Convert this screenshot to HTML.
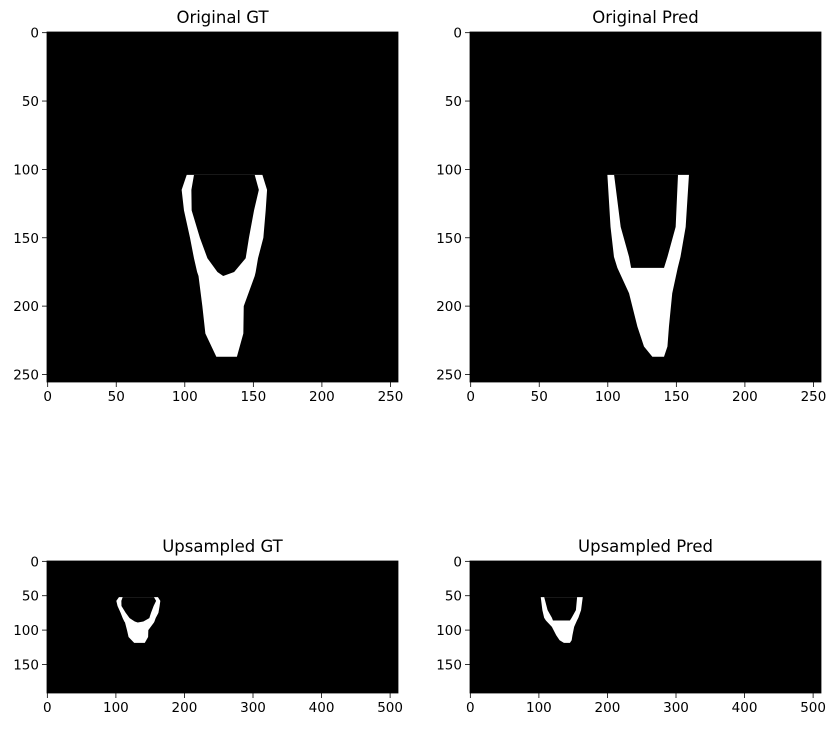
<!DOCTYPE html>
<html><head><meta charset="utf-8"><style>
body{margin:0;background:#fff;}
svg text{font-family:"DejaVu Sans","Liberation Sans",sans-serif;fill:#000;}
</style></head><body>
<svg id="fig" width="836" height="727" xmlns="http://www.w3.org/2000/svg"></svg>
<script>
// GT mask outline, rows and column extents (original 256x256 coordinates)
const gtRows      = [104, 115, 130, 150, 165, 175, 178, 200, 220, 237];
const gtLeftOuter = [101.4, 97.7, 99.4, 103.8, 106.7, 109, 110, 112.8, 115, 123];
const gtRightOuter= [156.6, 160, 159, 157.3, 153.4, 151.7, 151, 143, 142.7, 138];
const gtHoleRows  = [104, 115, 130, 150, 165, 175, 178];
const gtLeftInner = [106.7, 104.8, 105, 111, 116.5, 123.8, 128];
const gtRightInner= [151, 154, 150.5, 146.8, 144.4, 136, 128];
// Pred mask outline
const prRows      = [104, 142, 164, 172, 190.6, 215, 229.5, 237];
const prLeftOuter = [99.7, 102, 104.5, 107, 115.5, 121.6, 126.4, 132.5];
const prRightOuter= [159.2, 156.8, 153, 151, 147, 144.6, 143.5, 141];
const prHoleRows  = [104, 142, 164, 172];
const prLeftInner = [104.6, 109.4, 115.5, 117];
const prRightInner= [151.2, 149.5, 143.5, 141];
// Upsampling factors (original -> upsampled coordinates)
const upScaleX = 1.03, upScaleY = 0.5;
const origTicks = [0, 50, 100, 150, 200, 250];
const upXTicks = [0, 100, 200, 300, 400, 500];
const upYTicks = [0, 50, 100, 150];

const NS = "http://www.w3.org/2000/svg";
const svg = document.getElementById('fig');
function el(tag, attrs, parent){const e=document.createElementNS(NS,tag);for(const k in attrs)e.setAttribute(k,attrs[k]);(parent||svg).appendChild(e);return e;}

const panels = [
  {name:'original-gt', title:'Original GT', x0:47,x1:398,y0:32,y1:382,w:256,h:256,xt:origTicks,yt:origTicks,
   mask:{rows:gtRows,lo:gtLeftOuter,ro:gtRightOuter,hr:gtHoleRows,li:gtLeftInner,ri:gtRightInner},sx:1,sy:1},
  {name:'original-pred', title:'Original Pred', x0:470,x1:821,y0:32,y1:382,w:256,h:256,xt:origTicks,yt:origTicks,
   mask:{rows:prRows,lo:prLeftOuter,ro:prRightOuter,hr:prHoleRows,li:prLeftInner,ri:prRightInner},sx:1,sy:1},
  {name:'upsampled-gt', title:'Upsampled GT', x0:47,x1:398,y0:561,y1:693,w:512,h:192,xt:upXTicks,yt:upYTicks,
   mask:{rows:gtRows,lo:gtLeftOuter,ro:gtRightOuter,hr:gtHoleRows,li:gtLeftInner,ri:gtRightInner},sx:upScaleX,sy:upScaleY},
  {name:'upsampled-pred', title:'Upsampled Pred', x0:470,x1:821,y0:561,y1:693,w:512,h:192,xt:upXTicks,yt:upYTicks,
   mask:{rows:prRows,lo:prLeftOuter,ro:prRightOuter,hr:prHoleRows,li:prLeftInner,ri:prRightInner},sx:upScaleX,sy:upScaleY}
];

panels.forEach(p=>{
  const g = el('g',{});
  
  
  const xs = v => p.x0 + (v+0.5)*(p.x1-p.x0)/p.w;
  const ys = v => p.y0 + (v+0.5)*(p.y1-p.y0)/p.h;
  const bg = el('rect',{x:p.x0,y:p.y0,width:p.x1-p.x0,height:p.y1-p.y0,fill:'#000'},g);
  
  
  const m = p.mask;
  let pts=[];
  for(let i=0;i<m.rows.length;i++) pts.push(xs(m.lo[i]*p.sx)+','+ys(m.rows[i]*p.sy));
  for(let i=m.rows.length-1;i>=0;i--) pts.push(xs(m.ro[i]*p.sx)+','+ys(m.rows[i]*p.sy));
  const outer = el('polygon',{points:pts.join(' '),fill:'#fff'},g);
  
  
  let hp=[];
  for(let i=0;i<m.hr.length;i++) hp.push(xs(m.li[i]*p.sx)+','+ys(m.hr[i]*p.sy));
  for(let i=m.hr.length-1;i>=0;i--) hp.push(xs(m.ri[i]*p.sx)+','+ys(m.hr[i]*p.sy));
  const hole = el('polygon',{points:hp.join(' '),fill:'#000'},g);
  
  
  el('rect',{x:p.x0,y:p.y0,width:p.x1-p.x0,height:p.y1-p.y0,fill:'none',stroke:'#000','stroke-width':0.8},g);
  const t = el('text',{x:(p.x0+p.x1)/2,y:p.y0-9,'text-anchor':'middle','font-size':'16.5px'},g);
  t.textContent = p.title;
  
  
  p.xt.forEach(v=>{
    const x = xs(v);
    el('line',{x1:x,x2:x,y1:p.y1,y2:p.y1+5,stroke:'#000','stroke-width':0.8},g);
    const tx = el('text',{x:x,y:p.y1+19,'text-anchor':'middle','font-size':'13.5px'},g);
    tx.textContent = v;
    
    
  });
  p.yt.forEach(v=>{
    const y = ys(v);
    el('line',{x1:p.x0-5,x2:p.x0,y1:y,y2:y,stroke:'#000','stroke-width':0.8},g);
    const ty = el('text',{x:p.x0-8,y:y+5,'text-anchor':'end','font-size':'13.5px'},g);
    ty.textContent = v;
    
    
  });
});
</script>
</body></html>
